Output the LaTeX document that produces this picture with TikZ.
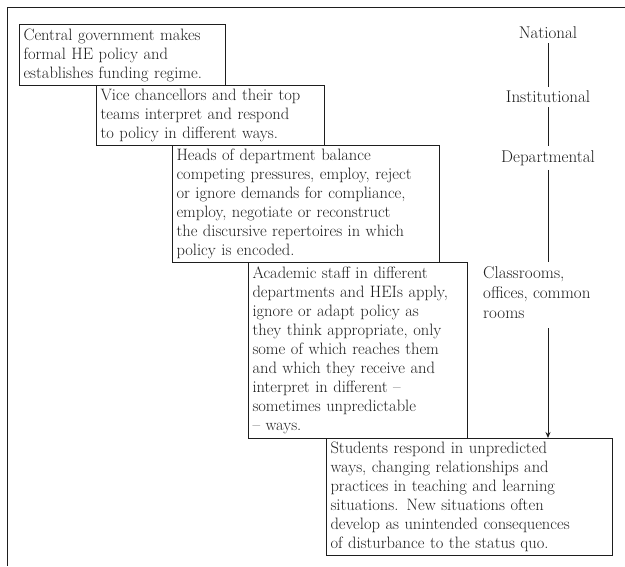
\documentclass[tikz,border=0pt]{standalone}
\usepackage{fontspec}
\usetikzlibrary{arrows.meta}
\definecolor{ink}{HTML}{1E1E1E}
\begin{document}
\begin{tikzpicture}[x=1pt,y=-1pt,
  box/.style={draw=ink, line width=1pt, anchor=north west, inner xsep=4pt, inner ysep=0pt,
    align=left, text=ink, font=\fontsize{16.5}{19}\selectfont},
  lvl/.style={text=ink, font=\fontsize{17}{20}\selectfont, inner sep=4pt},
  conn/.style={draw=ink, line width=1pt}]
\useasboundingbox (0,0) rectangle (625,566);
\draw[conn] (625,7) -- (7,7) -- (7,566);
\node[box, text width=198pt, minimum height=61pt] (b1) at (19,24)
  {Central government makes\\formal HE policy and\\establishes funding regime.};
\node[box, text width=220pt, minimum height=60pt] (b2) at (96,85)
  {Vice chancellors and their top\\teams interpret and respond\\to policy in different ways.};
\node[box, text width=259pt, minimum height=117pt] (b3) at (172,145)
  {Heads of department balance\\competing pressures, employ, reject\\or ignore demands for compliance,\\employ, negotiate or reconstruct\\the discursive repertoires in which\\policy is encoded.};
\node[box, text width=211pt, minimum height=176pt] (b4) at (248,262)
  {Academic staff in different\\departments and HEIs apply,\\ignore or adapt policy as\\they think appropriate, only\\some of which reaches them\\and which they receive and\\interpret in different --\\sometimes unpredictable\\-- ways.};
\node[box, text width=278pt, minimum height=117pt] (b5) at (326,438)
  {Students respond in unpredicted\\ways, changing relationships and\\practices in teaching and learning\\situations. New situations often\\develop as unintended consequences\\of disturbance to the status quo.};
\node[lvl] (nat) at (548,33) {National};
\node[lvl] (inst) at (548,97) {Institutional};
\node[lvl] (dept) at (548,158) {Departmental};
\node[lvl, anchor=north west, align=left] (cls) at (479,262) {Classrooms,\\offices, common\\rooms};
\draw[conn] (nat) -- (inst);
\draw[conn] (inst) -- (dept);
\draw[conn] (dept.south) -- (dept.south |- cls.north);
\draw[conn, shorten <=6pt, -{Stealth[length=6pt,width=5pt]}] (cls.south -| dept.south) -- (dept.south |- b5.north);
\end{tikzpicture}
\end{document}
